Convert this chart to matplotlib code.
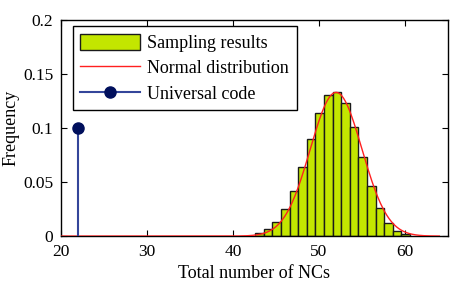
"""
Histogram of total number of NCs vs normal fit and universal code
"""

# Imports
import numpy as np
import matplotlib
matplotlib.use("Agg")
import matplotlib.pyplot as plt
from matplotlib.lines import Line2D
from matplotlib.patches import Patch
from matplotlib.legend_handler import HandlerLine2D

# Data
bin_left = [42.6, 43.6, 44.6, 45.6, 46.6, 47.6, 48.6, 49.6, 50.6,
            51.6, 52.6, 53.6, 54.6, 55.6, 56.6, 57.6, 58.6, 59.6]
bin_freq = [0.0025, 0.0062, 0.0133, 0.0247, 0.0414, 0.0640, 0.0898, 0.1136, 0.1306,
            0.1336, 0.1228, 0.1006, 0.0728, 0.0463, 0.0256, 0.0117, 0.0043, 0.0018]
bin_width = 1.0

# fitted normal
norm_mu = 52.0
norm_sigma = 3.0
norm_range = [20, 64]

universal_x = [22]
universal_y = [0.1]

xticks = [20, 30, 40, 50, 60]
yticks = [0, 0.05, 0.1, 0.15, 0.2]
yticklabels = ["0", "0.05", "0.1", "0.15", "0.2"]

# Style
plt.rcParams["font.family"] = ["Liberation Serif", "DejaVu Serif"]
plt.rcParams["font.size"] = 13

bar_color = "#c3e600"
line_color = "#ff2020"
stem_color = "#34469a"
mark_color = "#000f5c"


class HandlerMarkerRight(HandlerLine2D):
    # put the legend marker at the right end of the line, like MATLAB stem
    def get_xdata(self, legend, xdescent, ydescent, width, height, fontsize):
        xdata = np.array([-xdescent, -xdescent + width])
        return xdata, np.array([-xdescent + width])


fig = plt.figure(figsize=(4.58, 2.89), dpi=100)
ax = fig.add_axes([0.133, 0.183, 0.845, 0.748])

# Histogram bars
ax.bar(bin_left, bin_freq, width=bin_width, align="edge", color=bar_color,
       edgecolor="#1a1a1a", linewidth=1.0, zorder=2)

# Normal pdf
xs = np.linspace(norm_range[0], norm_range[1], 400)
pdf = np.exp(-0.5 * ((xs - norm_mu) / norm_sigma) ** 2) / (norm_sigma * np.sqrt(2 * np.pi))
ax.plot(xs, pdf, color=line_color, linewidth=1.0, zorder=3)

# Universal code stem
ax.vlines(universal_x, 0, universal_y, color=stem_color, linewidth=1.5, zorder=3)
ax.plot(universal_x, universal_y, "o", color=mark_color, markersize=8, zorder=4)

ax.set_xlim(20, 65)
ax.set_ylim(0, 0.2)
ax.set_xticks(xticks)
ax.set_yticks(yticks)
ax.set_yticklabels(yticklabels)
ax.tick_params(direction="in", top=True, right=True, length=4, width=0.8,
               labelsize=12.5)
ax.tick_params(axis="x", pad=6)
ax.tick_params(axis="y", pad=5.5)
for s in ax.spines.values():
    s.set_linewidth(1.0)

ax.set_xlabel("Total number of NCs", labelpad=3)
ax.set_ylabel("Frequency")
ax.yaxis.set_label_coords(-0.108, 0.5)

# Legend
h_bar = Patch(facecolor=bar_color, edgecolor="#1a1a1a", linewidth=1.0)
h_line = Line2D([], [], color=line_color, linewidth=1.0)
h_stem = Line2D([], [], color=stem_color, linewidth=1.5, marker="o",
                markerfacecolor=mark_color, markeredgecolor=mark_color, markersize=8)
leg = ax.legend([h_bar, h_line, h_stem],
                ["Sampling results", "Normal distribution", "Universal code"],
                loc="upper left", bbox_to_anchor=(0.031, 0.972), borderaxespad=0,
                handler_map={h_stem: HandlerMarkerRight()},
                handlelength=3.3, handleheight=1.0, handletextpad=0.4,
                borderpad=0.42, labelspacing=0.4, fancybox=False,
                edgecolor="black", framealpha=1.0)
leg.get_frame().set_linewidth(1.0)

fig.savefig("out.png", dpi=100)
